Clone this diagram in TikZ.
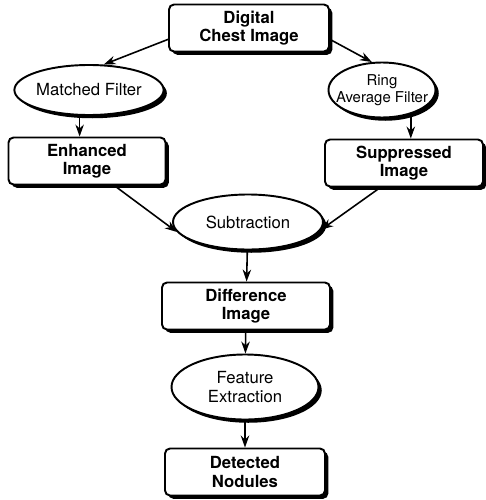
\documentclass[tikz,border=0pt]{standalone}
\usepackage{fontspec}
\setmainfont{TeX Gyre Heros}
\usetikzlibrary{arrows.meta,shapes.geometric,shadows}
\tikzset{pin/.style={line width=0.9pt, -{Stealth[length=2.4mm,width=1.7mm]}},
  shade/.style={drop shadow={shadow xshift=0.65mm, shadow yshift=-0.65mm, fill=black, opacity=1}},
  blk/.style={draw, line width=1.1pt, rounded corners=1mm, fill=white, shade, minimum width=32mm, minimum height=9.4mm, font=\fontsize{9.5}{10.5}\selectfont\bfseries, align=center, inner sep=0pt},
  oval/.style={draw, ellipse, line width=1.1pt, fill=white, shade, font=\fontsize{9.5}{10.5}\selectfont, align=center, inner sep=0pt}}

\begin{document}
\begin{tikzpicture}[x=0.2mm, y=-0.2mm]
  \useasboundingbox (0,0) rectangle (485,500);
  % image boxes
  \node[blk] (chest) at (249,28) {Digital\\Chest Image};
  \node[blk, minimum width=31.4mm] (enh) at (87,161) {Enhanced\\Image};
  \node[blk, minimum width=31.6mm] (supp) at (404,163) {Suppressed\\Image};
  \node[blk, minimum width=33.6mm] (diff) at (246,306) {Difference\\Image};
  \node[blk] (nod) at (245,472) {Detected\\Nodules};
  % operations
  \node[oval, minimum width=29.6mm, minimum height=10mm] (mf) at (89,90) {Matched Filter};
  \node[oval, minimum width=21.4mm, minimum height=11mm,
    label={[font=\fontsize{8.5}{9.5}\selectfont, align=center]center:Ring\\Average Filter}] (ring) at (382,90) {};
  \node[oval, minimum width=30mm, minimum height=11mm] (sub) at (248,222) {Subtraction};
  \node[oval, minimum width=29.4mm, minimum height=13mm] (feat) at (245,387) {Feature\\Extraction};
  % connectors
  \draw[pin] (chest.188) -- (mf.60);
  \draw[pin] (chest.-8) -- (ring.110);
  \draw[pin] (mf.-110) -- (mf.-110 |- enh.north);
  \draw[pin] (ring.-40) -- (ring.-40 |- supp.north);
  \draw[pin] (enh.-42) -- (sub.188);
  \draw[pin] (supp.-134) -- (sub.-6);
  \draw[pin] (sub) -- (diff);
  \draw[pin] (diff) -- (feat);
  \draw[pin] (feat) -- (nod);
\end{tikzpicture}
\end{document}
